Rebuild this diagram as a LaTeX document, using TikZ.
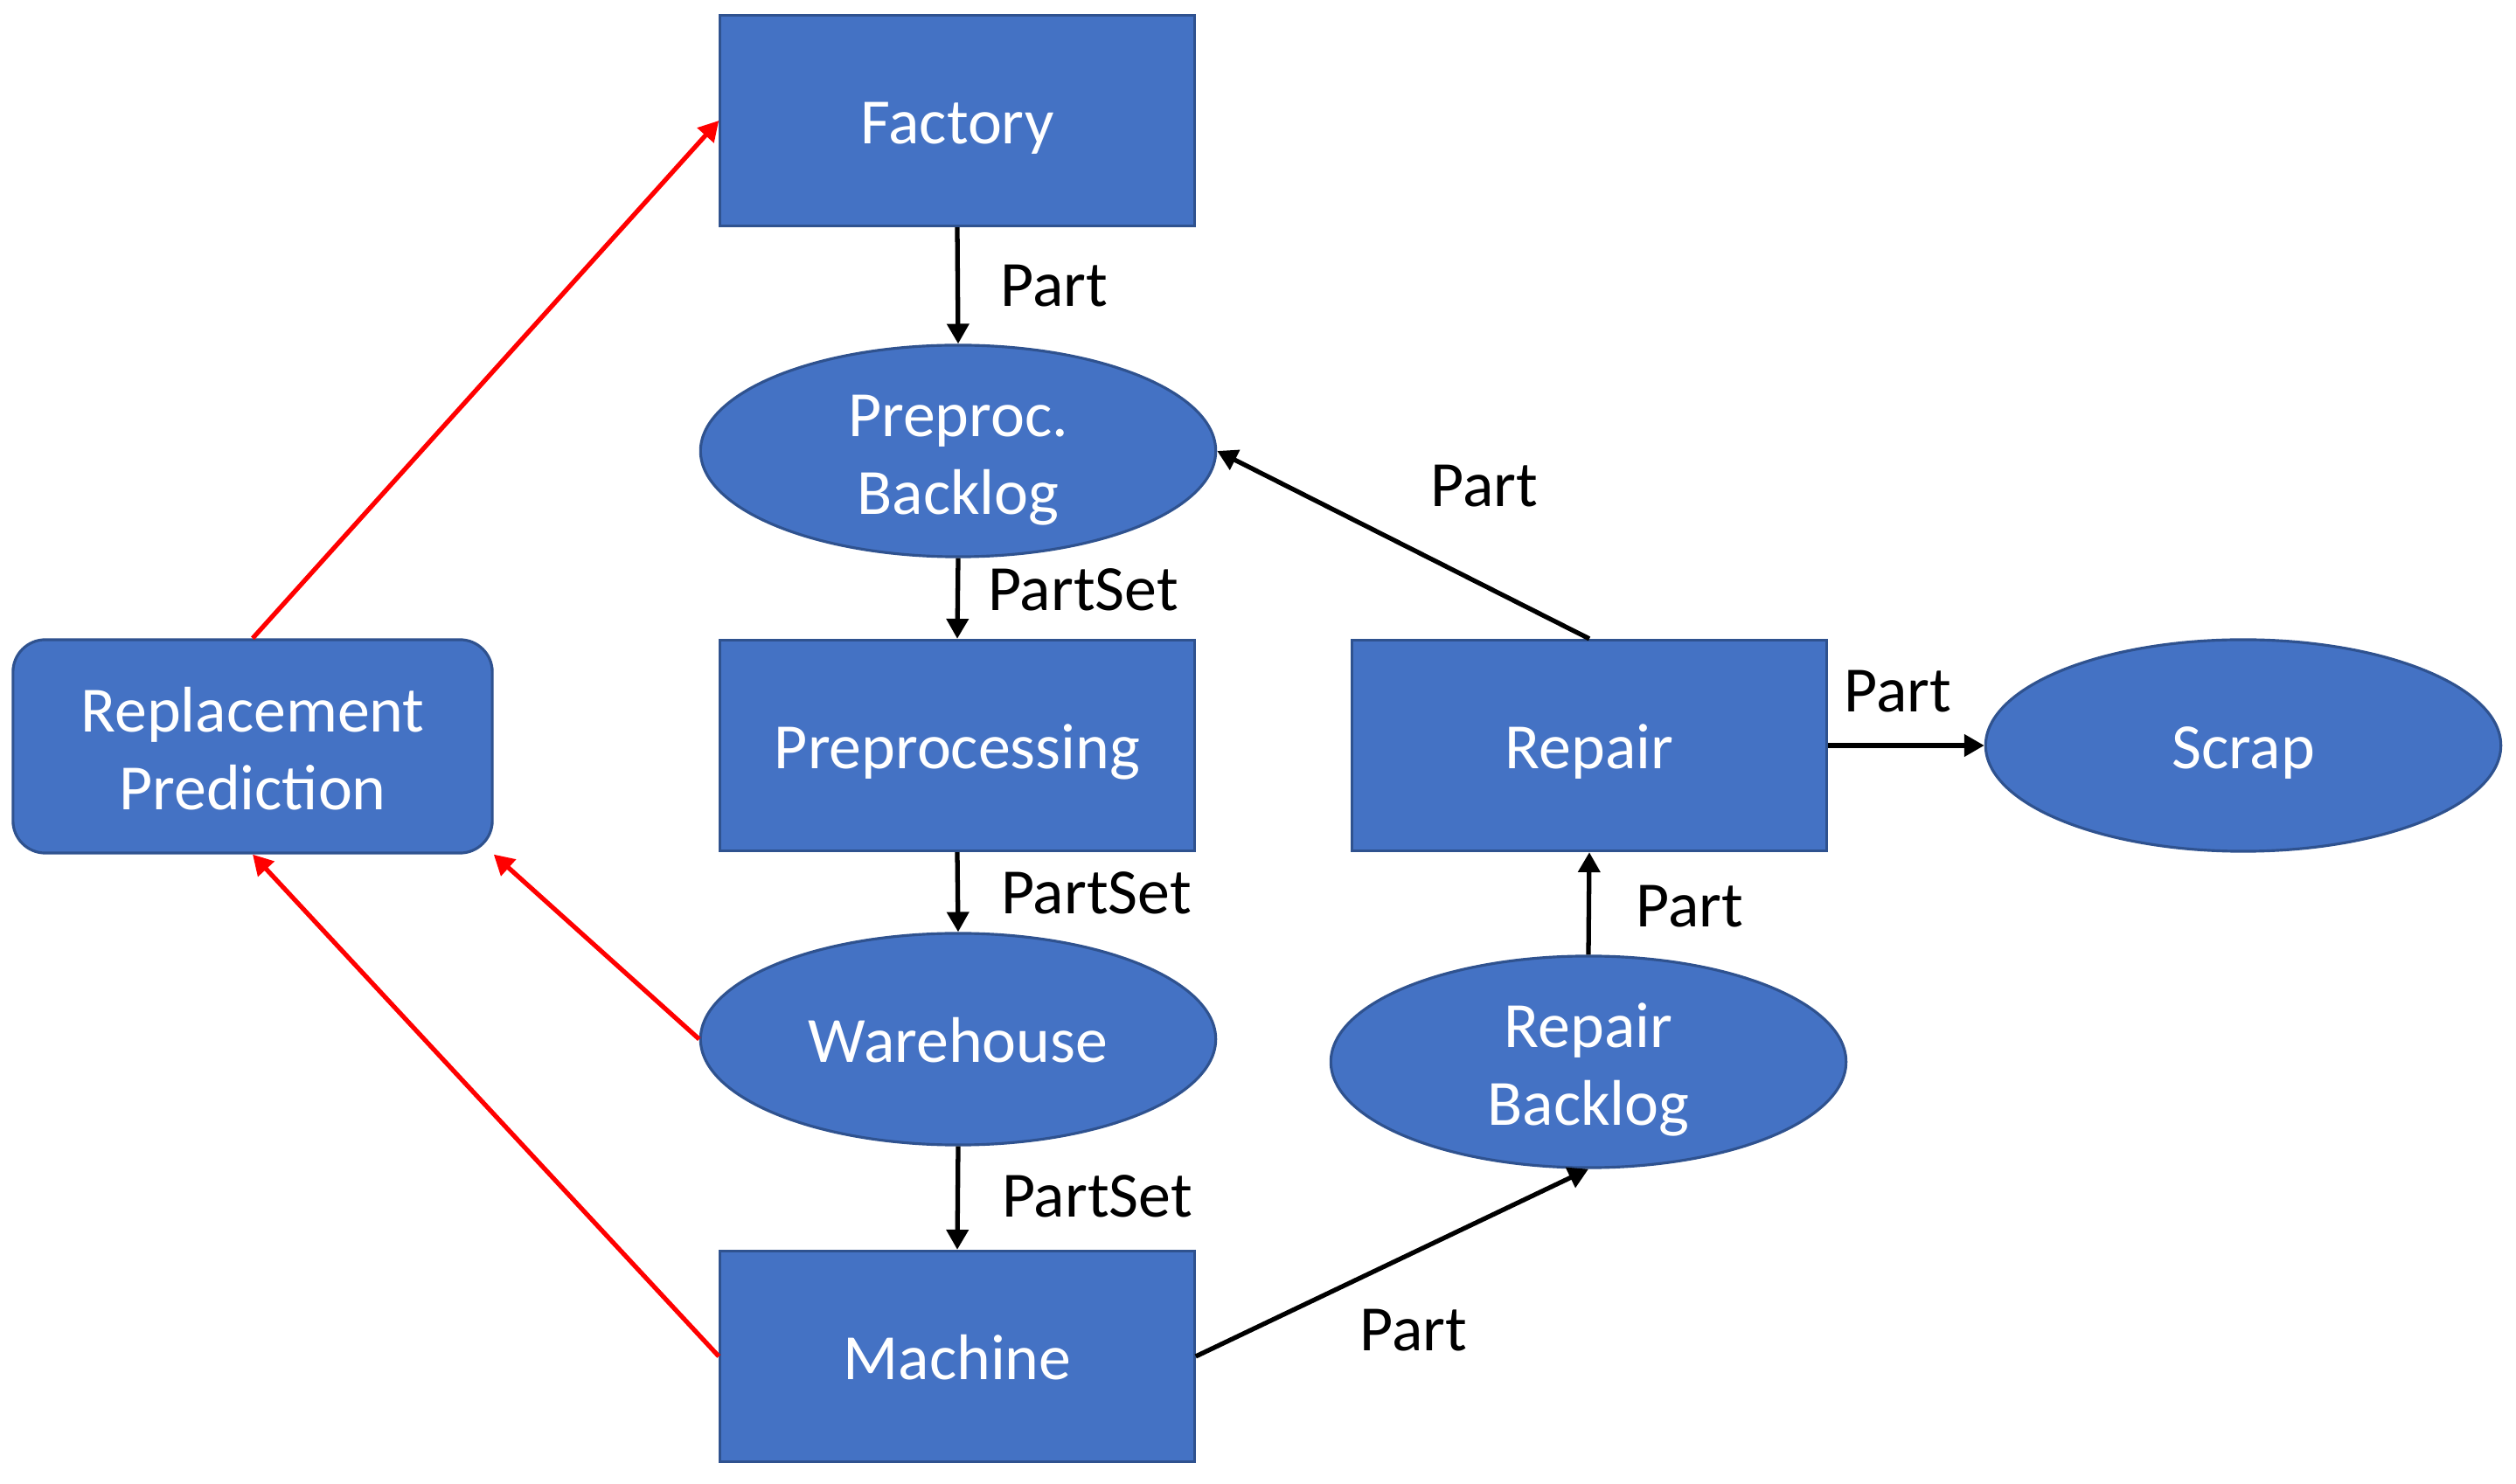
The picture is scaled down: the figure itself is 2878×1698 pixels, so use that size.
\documentclass[tikz,border=0pt]{standalone}
\usepackage{fontspec}
\setmainfont{Carlito}
\usetikzlibrary{shapes.geometric,arrows.meta}
\definecolor{boxblue}{HTML}{4472C4}
\definecolor{rimblue}{HTML}{2F528F}

\begin{document}
\begin{tikzpicture}[x=0.01cm,y=-0.01cm,
	every node/.style={font=\fontsize{21}{25.5}\selectfont},
	box/.style={draw=rimblue,fill=boxblue,line width=0.9pt,text=white,align=center,
		inner sep=0,minimum width=5.42cm,minimum height=2.41cm,text height=18pt,text depth=3pt},
	blob/.style={ellipse,draw=rimblue,fill=boxblue,line width=0.9pt,text=white,align=center,
		inner sep=0,minimum width=5.89cm,minimum height=2.42cm,text height=18pt,text depth=3pt},
	twoline/.style={text height=44.5pt,text depth=3pt},
	lbl/.style={inner sep=0},
	flow/.style={line width=1.5pt,-{Triangle[length=6.5pt,width=7pt]}},
	pred/.style={flow,red}]
	\useasboundingbox (0,0) rectangle (2878,1698);
	% the nodes
	\node[box] (factory) at (1095,138) {Factory};
	\node[blob,twoline] (prebacklog) at (1096,516) {Preproc.\\Backlog};
	\node[box] (preproc) at (1095,853) {Preprocessing};
	\node[blob] (warehouse) at (1096,1189) {Warehouse};
	\node[box] (machine) at (1095,1552) {Machine};
	\node[box,twoline,rounded corners=0.37cm,minimum width=5.48cm,minimum height=2.44cm] (predict) at (289,854) {Replacement\\Prediction};
	\node[box] (repair) at (1818,853) {Repair};
	\node[blob] (scrap) at (2566,853) {Scrap};
	\node[blob,twoline] (repbacklog) at (1817,1215) {Repair\\Backlog};
	% the part flow
	\draw[flow] (factory.south) -- (prebacklog.north);
	\node[lbl] (l1) at (1206,327) {Part};
	\draw[flow] (prebacklog.south) -- (preproc.north);
	\node[lbl] (l2) at (1239,675) {PartSet};
	\draw[flow] (preproc.south) -- (warehouse.north);
	\node[lbl] (l3) at (1254,1022) {PartSet};
	\draw[flow] (warehouse.south) -- (machine.north);
	\node[lbl] (l4) at (1255,1369) {PartSet};
	\draw[flow] (machine.east) -- (repbacklog.south);
	\node[lbl] (l5) at (1617,1522) {Part};
	\draw[flow] (repbacklog.north) -- (repair.south);
	\node[lbl] (l6) at (1933,1037) {Part};
	\draw[flow] (repair.north) -- (prebacklog.east);
	\node[lbl] (l7) at (1698,556) {Part};
	\draw[flow] (repair.east) -- (scrap.west);
	\node[lbl] (l8) at (2171,791) {Part};
	% prediction links
	\draw[pred] (predict.north) -- (factory.west);
	\draw[pred] (warehouse.west) -- (predict.south east);
	\draw[pred] (machine.west) -- (predict.south);
\end{tikzpicture}
\end{document}
